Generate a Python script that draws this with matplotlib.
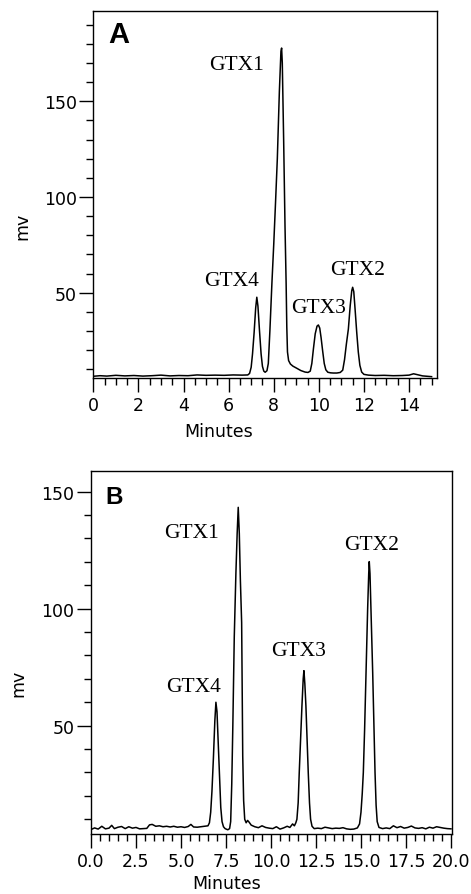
import matplotlib
matplotlib.use("Agg")
import matplotlib.pyplot as plt
from matplotlib.ticker import MultipleLocator, FixedLocator, FormatStrFormatter

# ---------------- Data ----------------
# Panel A chromatogram: time (min) and signal (mV)
a_time = [0.0, 0.3, 0.6, 1.0, 1.4, 1.8, 2.2, 2.6, 3.0, 3.4, 3.8, 4.2, 4.6, 5.0, 5.4,
          5.8, 6.2, 6.6, 6.85,
          6.93, 7.0, 7.06, 7.13, 7.2, 7.25, 7.3, 7.37, 7.44, 7.5, 7.56, 7.62, 7.7,
          7.76, 7.83, 7.92, 8.0, 8.08, 8.16, 8.25, 8.32, 8.35, 8.38, 8.44, 8.50, 8.55,
          8.58, 8.61, 8.66, 8.74, 8.85, 9.02, 9.2, 9.39, 9.52,
          9.62, 9.69, 9.76, 9.84, 9.92, 9.98, 10.04, 10.1, 10.17, 10.24, 10.31, 10.4,
          10.52, 10.64, 10.8, 10.95,
          11.06, 11.14, 11.22, 11.31, 11.39, 11.46, 11.50, 11.55, 11.61, 11.68, 11.75,
          11.82, 11.90, 12.0, 12.2, 12.5, 12.9, 13.3, 13.7, 14.0, 14.2, 14.35, 14.6,
          14.9, 15.0]
a_mv = [6.3, 6.6, 6.4, 6.8, 6.5, 6.7, 6.4, 6.6, 6.9, 6.5, 6.7, 6.6, 7.0, 6.8, 6.9,
        6.8, 7.0, 6.9, 7.0,
        7.8, 11.0, 18.0, 29.0, 42.0, 47.6, 43.0, 30.0, 18.0, 11.5, 9.0, 8.4, 9.2,
        13.0, 30.0, 55.0, 75.0, 97.0, 120.0, 155.0, 176.0, 177.8, 170.0, 130.0, 85.0,
        55.0, 32.0, 19.0, 14.5, 12.7, 11.6, 10.5, 9.3, 8.5, 8.3,
        9.0, 13.0, 20.6, 28.5, 32.5, 33.1, 31.5, 26.5, 19.5, 13.0, 9.7, 8.4,
        8.1, 8.0, 8.0, 8.3,
        9.5, 15.0, 23.0, 31.0, 43.0, 51.0, 52.8, 50.5, 41.0, 29.3, 19.0,
        12.0, 8.5, 7.3, 6.9, 6.7, 6.8, 6.6, 6.7, 6.9, 7.6, 7.2, 6.5,
        6.2, 6.1]

# Panel B chromatogram
b_time = [0.0, 0.2, 0.4, 0.6, 0.8, 1.0, 1.15, 1.3, 1.5, 1.7, 1.9, 2.1, 2.3, 2.5, 2.7,
          2.9, 3.1, 3.25, 3.4, 3.6, 3.8, 4.0, 4.2, 4.4, 4.6, 4.8, 5.0, 5.2, 5.4, 5.55,
          5.7, 5.9, 6.1, 6.3, 6.5,
          6.58, 6.65, 6.72, 6.8, 6.88, 6.94, 7.0, 7.07, 7.14, 7.21, 7.28, 7.36, 7.45,
          7.6, 7.7,
          7.76, 7.82, 7.88, 7.96, 8.05, 8.12, 8.18, 8.24, 8.30, 8.37, 8.40, 8.43, 8.48,
          8.54, 8.62, 8.7, 8.78, 8.9,
          9.1, 9.3, 9.5, 9.7, 9.9, 10.1, 10.3, 10.5, 10.7, 10.9, 11.05, 11.2, 11.3, 11.38,
          11.44, 11.51, 11.57, 11.65, 11.72, 11.79, 11.83, 11.88, 11.94, 12.0, 12.07,
          12.14, 12.2, 12.28, 12.4, 12.6, 12.8, 13.0, 13.2, 13.4, 13.6, 13.8, 14.0,
          14.2, 14.4, 14.6, 14.8,
          14.92, 15.0, 15.07, 15.13, 15.2, 15.28, 15.37, 15.43, 15.46, 15.50, 15.57,
          15.65, 15.72, 15.78, 15.84, 15.9, 16.0, 16.2, 16.4, 16.6, 16.8, 17.0, 17.2,
          17.4, 17.6, 17.8, 18.0, 18.2, 18.4, 18.6, 18.8, 19.0, 19.2, 19.4, 19.6,
          19.8, 20.0]
b_mv = [5.6, 6.3, 5.8, 7.0, 5.9, 6.2, 7.4, 6.0, 6.6, 6.9, 6.0, 6.8, 6.2, 6.5, 5.9,
        6.0, 6.1, 7.6, 7.8, 7.0, 7.2, 6.8, 7.0, 6.7, 7.0, 6.6, 6.8, 6.5, 6.9, 7.8,
        6.7, 6.6, 6.8, 7.0, 7.2,
        8.5, 13.0, 22.0, 36.0, 52.0, 60.0, 56.0, 42.0, 27.0, 15.0, 9.0, 6.8, 6.0,
        5.5, 6.0,
        9.0, 25.0, 50.0, 88.0, 115.0, 132.0, 143.3, 132.0, 112.0, 94.0, 65.0, 37.0,
        18.0, 10.0, 8.5, 9.5, 8.8, 7.5,
        6.8, 6.4, 7.2, 6.5, 6.2, 6.0, 6.8, 5.8, 6.3, 7.0, 6.5, 8.0, 7.2, 8.5,
        10.0, 17.0, 30.0, 45.0, 58.5, 70.0, 73.5, 68.0, 58.5, 45.0, 30.0,
        17.0, 10.0, 7.0, 6.0, 6.2, 6.0, 6.6, 6.3, 6.0, 6.2, 6.1, 6.4,
        5.9, 5.7, 5.8, 6.3,
        8.0, 13.0, 21.0, 30.0, 48.0, 72.8, 100.0, 115.0, 120.1, 115.0, 95.0,
        72.8, 50.0, 30.0, 16.0, 9.0, 6.5, 6.0, 6.3, 6.0, 7.2, 6.4, 6.9,
        6.2, 6.5, 7.1, 6.3, 6.1, 6.4, 5.9, 6.6, 6.2, 6.8, 6.5, 6.2,
        6.0, 5.9]

peak_names = ["GTX4", "GTX1", "GTX3", "GTX2"]
# label anchor positions (time, mV) of the peak labels
a_label_t = [6.12, 6.34, 10.0, 11.72]
a_label_v = [53.9, 166.9, 39.8, 59.8]
b_label_t = [5.68, 5.59, 11.52, 15.57]
b_label_v = [64.7, 130.6, 80.0, 125.5]

a_xticks = [0, 2, 4, 6, 8, 10, 12, 14]
b_xticks = [0.0, 2.5, 5.0, 7.5, 10.0, 12.5, 15.0, 17.5, 20.0]
y_major = [50, 100, 150]

# ---------------- Figure ----------------
W, H = 471, 895
fig = plt.figure(figsize=(W / 100, H / 100), dpi=100)

tick_font = "DejaVu Sans"
lab_font = "Liberation Serif"


def px_axes(l, r, t, b):
    return fig.add_axes([l / W, 1 - b / H, (r - l) / W, (b - t) / H])


def style(ax, xmaj, xminstep, ymin_ticks, fmt):
    for s in ax.spines.values():
        s.set_linewidth(1.0)
        s.set_color("black")
    ax.xaxis.set_major_locator(FixedLocator(xmaj))
    ax.xaxis.set_minor_locator(MultipleLocator(xminstep))
    ax.yaxis.set_major_locator(FixedLocator(y_major))
    ax.yaxis.set_minor_locator(FixedLocator(ymin_ticks))
    ax.xaxis.set_major_formatter(FormatStrFormatter(fmt))
    ax.tick_params(axis="both", which="major", direction="out", length=10,
                   width=1.0, labelsize=12.5, colors="black")
    ax.tick_params(axis="both", which="minor", direction="out", length=5,
                   width=1.0)
    ax.tick_params(axis="x", which="major", pad=3)
    ax.tick_params(axis="y", which="major", pad=2)
    for lbl in ax.get_xticklabels() + ax.get_yticklabels():
        lbl.set_fontfamily(tick_font)


# Panel A
axA = px_axes(93.3, 437, 12.3, 379)
axA.plot(a_time, a_mv, color="black", lw=1.1)
axA.set_xlim(0, 15.24)
axA.set_ylim(5.4, 197.0)
style(axA, a_xticks, 0.5, [v for v in range(10, 200, 10) if v % 50], "%d")
for name, t, v in zip(peak_names, a_label_t, a_label_v):
    axA.text(t, v, name, family=lab_font, fontsize=15.5, ha="center", va="baseline")
axA.text(0.074, 0.916, "A", transform=axA.transAxes, family="Liberation Sans",
         fontweight="bold", fontsize=21, ha="center", va="baseline")

# Panel B
axB = px_axes(91, 451.7, 472.3, 835)
axB.plot(b_time, b_mv, color="black", lw=1.1)
axB.set_xlim(0, 20.04)
axB.set_ylim(3.7, 158.7)
style(axB, b_xticks, 0.5, [v for v in range(10, 150, 10) if v % 50], "%.1f")
for name, t, v in zip(peak_names, b_label_t, b_label_v):
    axB.text(t, v, name, family=lab_font, fontsize=15.5, ha="center", va="baseline")
axB.text(0.063, 0.913, "B", transform=axB.transAxes, family="Liberation Sans",
         fontweight="bold", fontsize=17.5, ha="center", va="baseline")

# Axis titles
fig.text(218.3 / W, 1 - 437 / H, "Minutes", family=tick_font, fontsize=12.5,
         ha="center", va="baseline")
fig.text(226.7 / W, 1 - 889 / H, "Minutes", family=tick_font, fontsize=12.5,
         ha="center", va="baseline")
fig.text(22.5 / W, 1 - 226.7 / H, "mv", family=tick_font, fontsize=12.5,
         rotation=90, ha="center", va="center")
fig.text(18.3 / W, 1 - 683.3 / H, "mv", family=tick_font, fontsize=12.5,
         rotation=90, ha="center", va="center")

fig.savefig("out.png", dpi=100)
